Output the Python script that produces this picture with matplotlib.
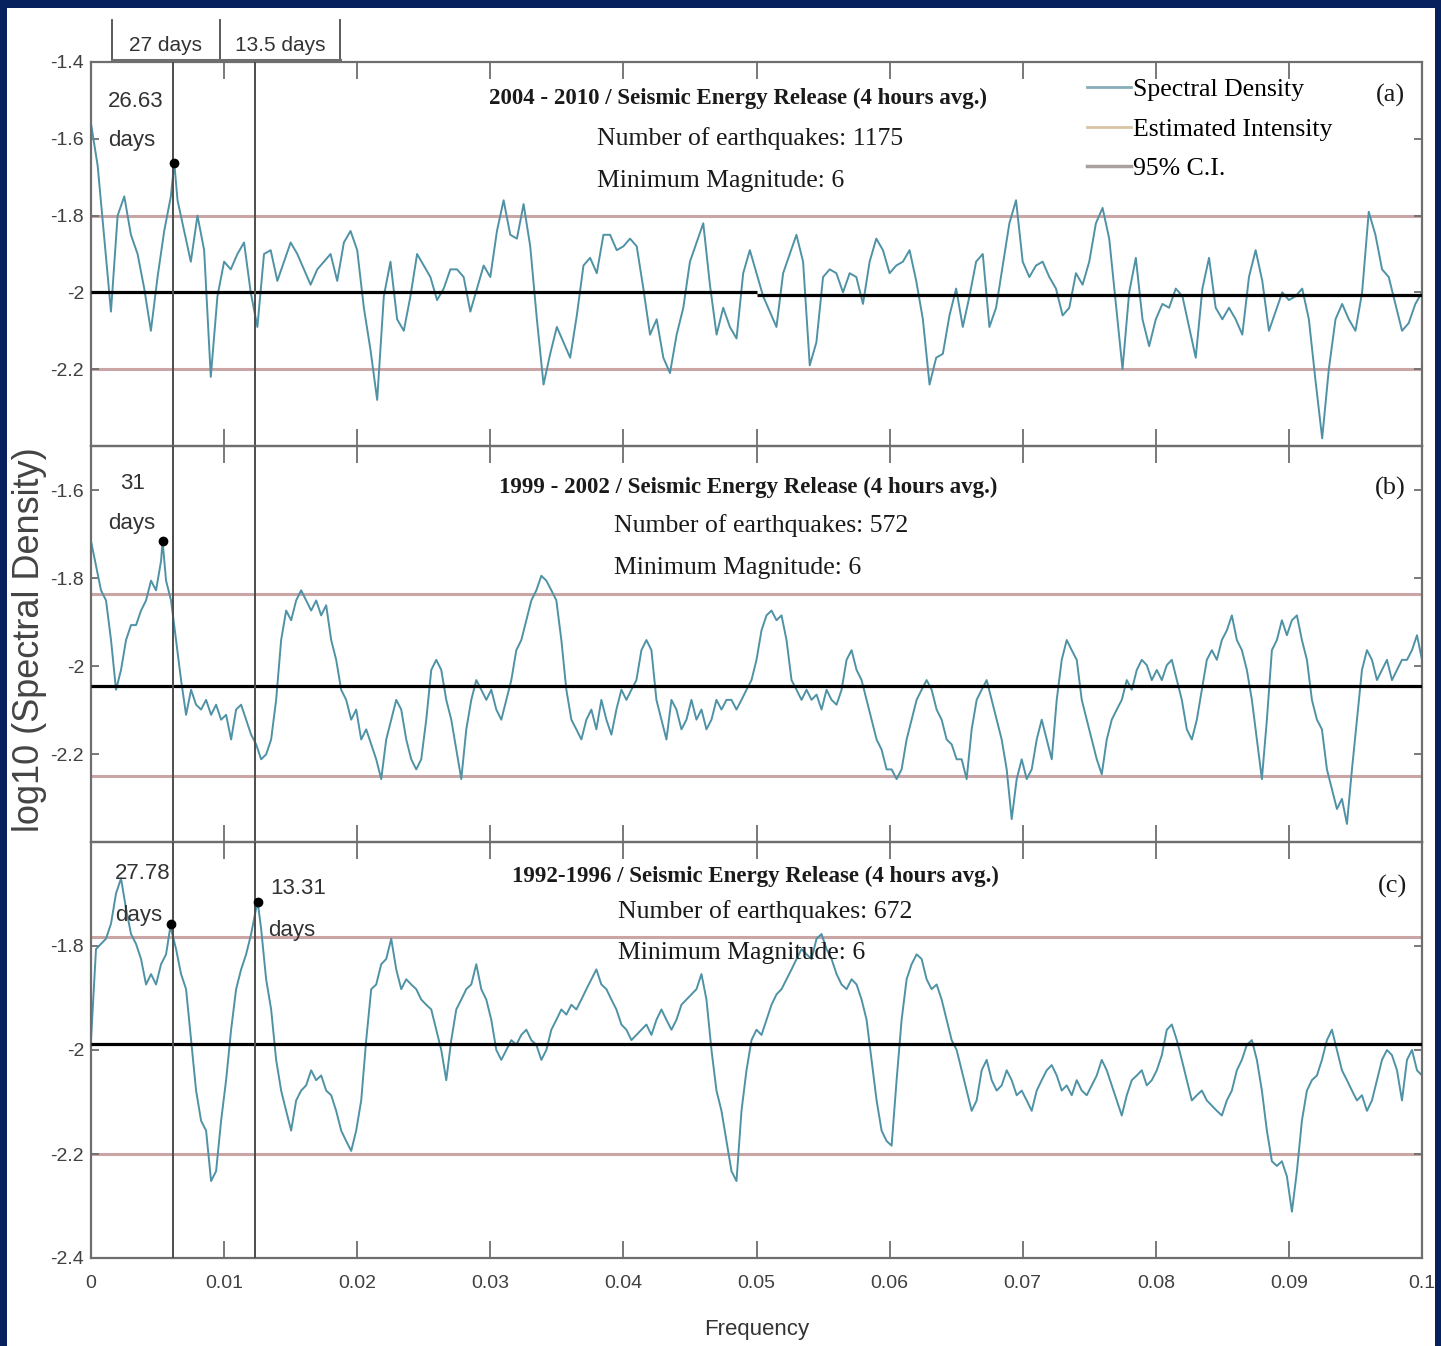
import matplotlib
matplotlib.use("Agg")
import matplotlib.pyplot as plt
import numpy as np
from matplotlib.patches import Rectangle
from matplotlib.lines import Line2D

plt.rcParams["axes.unicode_minus"] = False

# ---------------------------------------------------------------- data
SAMPLES_PER_DAY = 6            # 4-hour averages
LUNAR_DAYS = [27, 13.5]        # reference periods (vertical lines)
F_MAX = 0.1

# (a) 2004-2010, spectral density, evenly spaced over 0 .. 0.1
spec_a = [
    -1.56, -1.67, -1.86, -2.05, -1.80, -1.75, -1.85, -1.90, -1.99, -2.10,
    -1.96, -1.84, -1.75, -1.76, -1.84, -1.92, -1.80, -1.89, -2.22, -2.01,
    -1.92, -1.94, -1.90, -1.87, -2.00, -2.09, -1.90, -1.89, -1.97, -1.92,
    -1.87, -1.90, -1.94, -1.98, -1.94, -1.92, -1.90, -1.97, -1.87, -1.84,
    -1.89, -2.04, -2.15, -2.28, -2.01, -1.92, -2.07, -2.10, -2.01, -1.90,
    -1.93, -1.96, -2.02, -1.99, -1.94, -1.94, -1.96, -2.05, -1.99, -1.93,
    -1.96, -1.84, -1.76, -1.85, -1.86, -1.77, -1.88, -2.07, -2.24, -2.16,
    -2.09, -2.13, -2.17, -2.06, -1.93, -1.91, -1.95, -1.85, -1.85, -1.89,
    -1.88, -1.86, -1.88, -1.99, -2.11, -2.07, -2.17, -2.21, -2.11, -2.04,
    -1.92, -1.87, -1.82, -1.98, -2.11, -2.04, -2.09, -2.12, -1.95, -1.89,
    -1.95, -2.01, -2.05, -2.09, -1.95, -1.90, -1.85, -1.92, -2.19, -2.13,
    -1.96, -1.94, -1.95, -2.00, -1.95, -1.96, -2.03, -1.92, -1.86, -1.89,
    -1.95, -1.93, -1.92, -1.89, -1.97, -2.07, -2.24, -2.17, -2.16, -2.06,
    -1.99, -2.09, -2.01, -1.92, -1.90, -2.09, -2.04, -1.93, -1.82, -1.76,
    -1.92, -1.96, -1.93, -1.92, -1.96, -1.99, -2.06, -2.04, -1.95, -1.98,
    -1.92, -1.82, -1.78, -1.86, -2.03, -2.20, -2.00, -1.91, -2.07, -2.14,
    -2.07, -2.03, -2.04, -1.99, -2.01, -2.09, -2.17, -1.99, -1.91, -2.04,
    -2.07, -2.04, -2.07, -2.11, -1.96, -1.89, -1.97, -2.10, -2.05, -2.00,
    -2.02, -2.01, -1.99, -2.07, -2.23, -2.38, -2.20, -2.07, -2.03, -2.07,
    -2.10, -2.00, -1.79, -1.85, -1.94, -1.96, -2.03, -2.10, -2.08, -2.03,
    -2.00,
]
# (b) 1999-2002, evenly spaced over 0 .. 0.1
spec_b = [
    -1.716, -1.772, -1.828, -1.851, -1.941, -2.054, -2.009, -1.941, -1.907, -1.907,
    -1.874, -1.851, -1.806, -1.828, -1.761, -1.806, -1.851, -1.941, -2.032, -2.111,
    -2.054, -2.088, -2.099, -2.077, -2.111, -2.088, -2.122, -2.111, -2.167, -2.099,
    -2.088, -2.122, -2.156, -2.178, -2.212, -2.201, -2.167, -2.077, -1.941, -1.874,
    -1.896, -1.851, -1.828, -1.851, -1.874, -1.851, -1.885, -1.862, -1.941, -1.986,
    -2.054, -2.077, -2.122, -2.099, -2.167, -2.144, -2.178, -2.212, -2.257, -2.167,
    -2.122, -2.077, -2.099, -2.167, -2.212, -2.235, -2.212, -2.122, -2.009, -1.986,
    -2.009, -2.077, -2.122, -2.190, -2.257, -2.144, -2.077, -2.032, -2.054, -2.077,
    -2.054, -2.099, -2.122, -2.077, -2.032, -1.964, -1.941, -1.896, -1.851, -1.828,
    -1.795, -1.806, -1.828, -1.851, -1.941, -2.054, -2.122, -2.144, -2.167, -2.122,
    -2.099, -2.144, -2.077, -2.122, -2.156, -2.099, -2.054, -2.077, -2.054, -2.032,
    -1.964, -1.941, -1.964, -2.077, -2.122, -2.167, -2.077, -2.099, -2.144, -2.122,
    -2.077, -2.122, -2.099, -2.144, -2.122, -2.077, -2.099, -2.077, -2.077, -2.099,
    -2.077, -2.054, -2.032, -1.986, -1.919, -1.885, -1.874, -1.896, -1.885, -1.941,
    -2.032, -2.054, -2.077, -2.054, -2.077, -2.065, -2.099, -2.054, -2.077, -2.088,
    -2.054, -1.986, -1.964, -2.009, -2.032, -2.077, -2.122, -2.167, -2.190, -2.235,
    -2.235, -2.257, -2.235, -2.167, -2.122, -2.077, -2.054, -2.032, -2.054, -2.099,
    -2.122, -2.167, -2.178, -2.212, -2.212, -2.257, -2.144, -2.077, -2.054, -2.032,
    -2.077, -2.122, -2.167, -2.235, -2.348, -2.257, -2.212, -2.257, -2.235, -2.167,
    -2.122, -2.167, -2.212, -2.077, -1.986, -1.941, -1.964, -1.986, -2.077, -2.122,
    -2.167, -2.212, -2.246, -2.167, -2.122, -2.099, -2.077, -2.032, -2.054, -2.009,
    -1.986, -1.998, -2.032, -2.009, -2.032, -1.998, -1.986, -2.032, -2.077, -2.144,
    -2.167, -2.122, -2.054, -1.986, -1.964, -1.986, -1.941, -1.919, -1.885, -1.941,
    -1.964, -2.009, -2.077, -2.167, -2.257, -2.122, -1.964, -1.941, -1.896, -1.930,
    -1.896, -1.885, -1.941, -1.986, -2.077, -2.122, -2.144, -2.235, -2.280, -2.325,
    -2.302, -2.359, -2.235, -2.122, -2.009, -1.964, -1.986, -2.032, -2.009, -1.986,
    -2.032, -2.009, -1.986, -1.986, -1.964, -1.930, -1.986,
]
# (c) 1992-1996, evenly spaced over 0 .. 0.1
spec_c = [
    -1.981, -1.806, -1.796, -1.786, -1.757, -1.699, -1.670, -1.728, -1.777, -1.796,
    -1.825, -1.874, -1.854, -1.874, -1.835, -1.816, -1.767, -1.806, -1.854, -1.883,
    -1.981, -2.078, -2.136, -2.155, -2.252, -2.233, -2.136, -2.058, -1.961, -1.883,
    -1.845, -1.816, -1.777, -1.728, -1.767, -1.864, -1.922, -2.019, -2.078, -2.117,
    -2.155, -2.097, -2.078, -2.068, -2.039, -2.058, -2.049, -2.078, -2.087, -2.117,
    -2.155, -2.175, -2.194, -2.155, -2.097, -1.981, -1.883, -1.874, -1.835, -1.825,
    -1.786, -1.845, -1.883, -1.864, -1.874, -1.883, -1.903, -1.913, -1.922, -1.961,
    -2.000, -2.058, -1.981, -1.922, -1.903, -1.883, -1.874, -1.835, -1.883, -1.903,
    -1.942, -2.000, -2.019, -2.000, -1.981, -1.990, -1.971, -1.961, -1.981, -1.990,
    -2.019, -2.000, -1.961, -1.942, -1.922, -1.932, -1.913, -1.922, -1.903, -1.883,
    -1.864, -1.845, -1.874, -1.883, -1.903, -1.922, -1.951, -1.961, -1.981, -1.971,
    -1.961, -1.951, -1.971, -1.942, -1.922, -1.942, -1.961, -1.942, -1.913, -1.903,
    -1.893, -1.883, -1.854, -1.903, -2.000, -2.078, -2.117, -2.175, -2.233, -2.252,
    -2.117, -2.039, -1.981, -1.961, -1.971, -1.942, -1.913, -1.893, -1.883, -1.864,
    -1.845, -1.825, -1.806, -1.816, -1.825, -1.786, -1.777, -1.806, -1.825, -1.854,
    -1.874, -1.883, -1.864, -1.874, -1.903, -1.942, -2.019, -2.097, -2.155, -2.175,
    -2.184, -2.058, -1.942, -1.864, -1.835, -1.816, -1.825, -1.864, -1.883, -1.874,
    -1.903, -1.942, -1.981, -2.000, -2.039, -2.078, -2.117, -2.097, -2.039, -2.019,
    -2.058, -2.078, -2.068, -2.039, -2.058, -2.087, -2.078, -2.097, -2.117, -2.078,
    -2.058, -2.039, -2.029, -2.049, -2.078, -2.068, -2.087, -2.058, -2.078, -2.087,
    -2.068, -2.049, -2.019, -2.039, -2.068, -2.097, -2.126, -2.087, -2.058, -2.049,
    -2.039, -2.068, -2.058, -2.039, -2.010, -1.961, -1.951, -1.981, -2.019, -2.058,
    -2.097, -2.087, -2.078, -2.097, -2.107, -2.117, -2.126, -2.097, -2.078, -2.039,
    -2.019, -1.990, -1.981, -2.019, -2.078, -2.155, -2.214, -2.223, -2.214, -2.243,
    -2.311, -2.233, -2.136, -2.078, -2.058, -2.049, -2.019, -1.981, -1.961, -2.000,
    -2.039, -2.058, -2.078, -2.097, -2.087, -2.117, -2.097, -2.058, -2.019, -2.000,
    -2.010, -2.039, -2.097, -2.019, -2.000, -2.039, -2.049,
]

# estimated intensity (piecewise level over frequency bands) and 95% C.I.
mean_a_edges, mean_a_levels = [0.0, 0.05, 0.1], [-2.0, -2.006]
mean_b_edges, mean_b_levels = [0.0, 0.1], [-2.045]
mean_c_edges, mean_c_levels = [0.0, 0.1], [-1.988]
ci_a = [-1.80, -2.20]
ci_b = [-1.836, -2.25]
ci_c = [-1.783, -2.20]

# significant peaks: period in days, log10 spectral density
peaks_a_days, peaks_a_vals = [26.63], [-1.663]
peaks_b_days, peaks_b_vals = [31], [-1.716]
peaks_c_days, peaks_c_vals = [27.78, 13.31], [-1.757, -1.715]

titles = [
    "2004 - 2010 / Seismic Energy Release (4 hours avg.)",
    "1999 - 2002 / Seismic Energy Release (4 hours avg.)",
    "1992-1996 / Seismic Energy Release (4 hours avg.)",
]
n_quakes = [1175, 572, 672]
min_mag = [6, 6, 6]
panel_tags = ["(a)", "(b)", "(c)"]
ylims = [(-2.4, -1.4), (-2.4, -1.5), (-2.4, -1.6)]
yticks = [[-1.4, -1.6, -1.8, -2.0, -2.2],
          [-1.6, -1.8, -2.0, -2.2],
          [-1.8, -2.0, -2.2, -2.4]]
xticks = [0, 0.01, 0.02, 0.03, 0.04, 0.05, 0.06, 0.07, 0.08, 0.09, 0.1]
xtick_labels = ["0", "0.01", "0.02", "0.03", "0.04", "0.05",
                "0.06", "0.07", "0.08", "0.09", "0.1"]
legend_labels = ["Spectral Density", "Estimated Intensity", "95% C.I."]

# ---------------------------------------------------------------- style
NAVY = "#07215f"
CURVE = "#4f92a6"
CI_COL = "#c9a5a5"
VLINE = "#4d4d4d"
SPINE = "#6e6e6e"
TICKTXT = "#404040"
SANS = ["Liberation Sans", "DejaVu Sans"]
SERIF = ["Liberation Serif", "DejaVu Serif"]

W, H = 1441, 1346
fig = plt.figure(figsize=(W / 100, H / 100), dpi=100, facecolor=NAVY)
fig.patches.append(Rectangle((7 / W, 0), (1435 - 7) / W, (H - 8) / H,
                             transform=fig.transFigure, facecolor="white",
                             edgecolor="none", zorder=-10))

left, right = 91 / W, 1422 / W
bounds_px = [(62, 446), (446, 842), (842, 1258)]
axes = []
for top, bot in bounds_px:
    ax = fig.add_axes([left, 1 - bot / H, right - left, (bot - top) / H])
    ax.set_zorder(1)
    ax.patch.set_alpha(0)
    axes.append(ax)


def to_freq(days):
    return 1.0 / (np.asarray(days, dtype=float) * SAMPLES_PER_DAY)


def with_peaks(freq, vals, pf, pv):
    f = np.concatenate([freq, pf])
    v = np.concatenate([vals, pv])
    order = np.argsort(f, kind="stable")
    return f[order], v[order]


series = [
    (spec_a, peaks_a_days, peaks_a_vals, mean_a_edges, mean_a_levels, ci_a),
    (spec_b, peaks_b_days, peaks_b_vals, mean_b_edges, mean_b_levels, ci_b),
    (spec_c, peaks_c_days, peaks_c_vals, mean_c_edges, mean_c_levels, ci_c),
]

lunar_f = to_freq(LUNAR_DAYS)

for i, (ax, (sp, pdays, pvals, medges, mlev, ci)) in enumerate(zip(axes, series)):
    fq = np.linspace(0, F_MAX, len(sp))
    pf = to_freq(pdays)
    f, v = with_peaks(fq, np.array(sp), pf, np.array(pvals, dtype=float))
    ax.plot(f, v, color=CURVE, lw=1.4, zorder=2)
    ax.hlines(ci, 0, F_MAX, color=CI_COL, lw=2.2, zorder=1)
    ax.hlines(mlev, medges[:-1], medges[1:], color="black", lw=2.3, zorder=3)
    for lf in lunar_f:
        ax.axvline(lf, color=VLINE, lw=1.4, zorder=4)
    ax.plot(pf, pvals, "o", color="black", ms=6, zorder=5)

    ax.set_xlim(0, F_MAX)
    ax.set_ylim(*ylims[i])
    ax.set_xticks(xticks)
    ax.set_yticks(yticks[i])
    ax.set_yticklabels([f"{t:g}" for t in yticks[i]], family=SANS,
                       fontsize=14, color=TICKTXT)
    if i == 2:
        ax.set_xticklabels(xtick_labels, family=SANS, fontsize=14, color=TICKTXT)
    else:
        ax.set_xticklabels([])
    ax.tick_params(axis="x", direction="in", top=True, bottom=True,
                   length=12, width=1.3, color=SPINE, pad=12)
    ax.tick_params(axis="y", direction="in", left=True, right=True,
                   length=6, width=1.3, color=SPINE, pad=5)
    for s in ax.spines.values():
        s.set_color(SPINE)
        s.set_linewidth(1.6)

    # panel annotations
    tpos = [(0.486, 0.904, 0.380, 0.802, 0.690),
            (0.494, 0.896, 0.393, 0.800, 0.692),
            (0.499, 0.918, 0.396, 0.834, 0.733)][i]
    ax.text(tpos[0], tpos[1], titles[i], transform=ax.transAxes, ha="center",
            va="center", family=SERIF, fontweight="bold", fontsize=16.5,
            color="#1a1a1a", zorder=6)
    ax.text(tpos[2], tpos[3], f"Number of earthquakes: {n_quakes[i]}",
            transform=ax.transAxes, ha="left", va="center", family=SERIF,
            fontsize=18.5, color="#1a1a1a", zorder=6)
    ax.text(tpos[2], tpos[4], f"Minimum Magnitude: {min_mag[i]}",
            transform=ax.transAxes, ha="left", va="center", family=SERIF,
            fontsize=18.5, color="#1a1a1a", zorder=6)
    tag_xy = [(0.976, 0.914), (0.976, 0.894), (0.978, 0.892)][i]
    ax.text(*tag_xy, panel_tags[i], transform=ax.transAxes, ha="center",
            va="center", family=SERIF, fontsize=19, color="#1a1a1a")

# peak period labels (number above, "days" below)
peak_text = [
    (axes[0], peaks_a_days[0], 0.00128, -1.504, 0.00128, -1.605),
    (axes[1], peaks_b_days[0], 0.00218, -1.585, 0.00128, -1.675),
    (axes[2], peaks_c_days[0], 0.00180, -1.660, 0.00180, -1.742),
    (axes[2], peaks_c_days[1], 0.01345, -1.689, 0.01330, -1.771),
]
for ax, days, x1, y1, x2, y2 in peak_text:
    ax.text(x1, y1, f"{days:g}", ha="left", va="center", family=SANS,
            fontsize=16, color="#333333", zorder=6)
    ax.text(x2, y2, "days", ha="left", va="center", family=SANS,
            fontsize=16, color="#333333", zorder=6)

# legend in panel (a)
handles = [Line2D([], [], color="#86adb8", lw=2),
           Line2D([], [], color="#d9c3a5", lw=2),
           Line2D([], [], color="#a9a0a0", lw=2.5)]
axes[0].legend(handles, legend_labels, loc="upper left",
               bbox_to_anchor=(0.731, 1.018), frameon=False, handlelength=1.7,
               handletextpad=0.1, labelspacing=0.64,
               prop={"family": SERIF, "size": 18.5})

# period bracket above panel (a)
ax0 = axes[0]
for xb in [0.0158, 0.0969, 0.187]:
    ax0.plot([xb, xb], [1.0, 1.109], transform=ax0.transAxes, color=VLINE,
             lw=1.3, clip_on=False)
ax0.plot([0.0158, 0.187], [1.005, 1.005], transform=ax0.transAxes,
         color=SPINE, lw=2.2, clip_on=False)
ax0.text(0.0563, 1.044, f"{LUNAR_DAYS[0]:g} days", transform=ax0.transAxes,
         ha="center", va="center", family=SANS, fontsize=15, color="#333333")
ax0.text(0.142, 1.044, f"{LUNAR_DAYS[1]:g} days", transform=ax0.transAxes,
         ha="center", va="center", family=SANS, fontsize=15, color="#333333")

fig.text(30 / W, 1 - 640 / H, "log10 (Spectral Density)", rotation=90,
         ha="center", va="center", family=SANS, fontsize=26, color="#444444")
fig.text(757 / W, 1 - 1330 / H, "Frequency", ha="center", va="center",
         family=SANS, fontsize=16, color="#333333")

fig.savefig("out.png", dpi=100, facecolor=NAVY)
